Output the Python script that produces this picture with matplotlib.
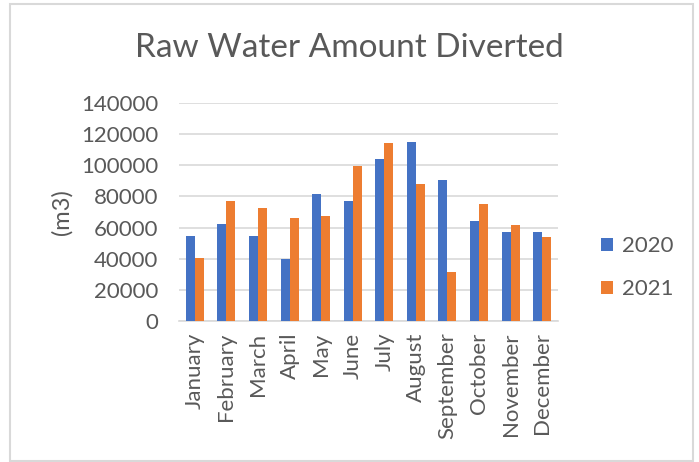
import numpy as np
import matplotlib
matplotlib.use("Agg")
import matplotlib.pyplot as plt
from matplotlib.patches import Rectangle

plt.rcParams['font.family'] = ['Lato', 'DejaVu Sans']

months = ["January", "February", "March", "April", "May", "June", "July",
          "August", "September", "October", "November", "December"]
y2020 = [54600, 62100, 54400, 39700, 81500, 77200, 103900, 114800, 90200, 64400, 57400, 57400]
y2021 = [40300, 77000, 72500, 66300, 67200, 99200, 113900, 87900, 31600, 75100, 61600, 54200]
yticks = [0, 20000, 40000, 60000, 80000, 100000, 120000, 140000]

BLUE = "#4472C4"
ORANGE = "#ED7D31"
GREY = "#595959"
GRID = "#D9D9D9"

W, H = 699, 462
fig = plt.figure(figsize=(W / 100, H / 100), dpi=100)
ax = fig.add_axes([179 / W, 1 - 321.3 / H, (558 - 179) / W, (321.3 - 102.7) / H])

x = np.arange(len(months))
bw = 0.285
ax.bar(x - bw / 2, y2020, bw, color=BLUE, label="2020", zorder=3)
ax.bar(x + bw / 2, y2021, bw, color=ORANGE, label="2021", zorder=3)

ax.set_xlim(-0.5, len(months) - 0.5)
ax.set_ylim(0, 140000)
ax.set_yticks(yticks)
ax.set_yticklabels([str(v) for v in yticks])
ax.set_xticks(x)
ax.set_xticklabels(months, rotation=90)
ax.tick_params(axis='y', length=0, labelsize=16, colors=GREY, pad=15)
ax.tick_params(axis='x', length=0, labelsize=16, colors=GREY, pad=8)
ax.grid(axis='y', color=GRID, linewidth=1.2, zorder=0)
for s in ["top", "right", "left"]:
    ax.spines[s].set_visible(False)
ax.spines["bottom"].set_color(GRID)
ax.spines["bottom"].set_linewidth(1.2)

ax.set_ylabel("(m3)", fontsize=17, color=GREY)
ax.yaxis.set_label_coords((73 - 179) / (558 - 179), 0.5)

fig.text(0.5, 1 - 48 / H, "Raw Water Amount Diverted", ha='center', va='center',
         fontsize=24, color=GREY)

leg = ax.legend(loc='center left', bbox_to_anchor=(1.09, 0.245), frameon=False,
                fontsize=16, handlelength=0.55, handleheight=0.55,
                handletextpad=0.4, labelspacing=1.05, borderaxespad=0)
for t in leg.get_texts():
    t.set_color(GREY)

fig.patches.append(Rectangle((10 / W, 1 - 461 / H), (693 - 10) / W, (461 - 4) / H,
                             transform=fig.transFigure, fill=False,
                             edgecolor=GRID, linewidth=1.5))

fig.savefig("out.png", dpi=100)
